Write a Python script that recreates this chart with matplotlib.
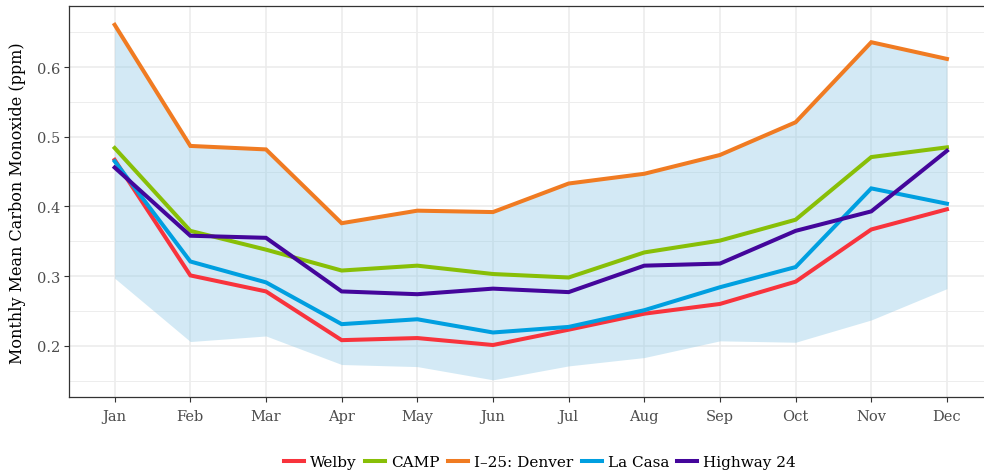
import numpy as np
import matplotlib
matplotlib.use('Agg')
import matplotlib.pyplot as plt
from matplotlib.ticker import MultipleLocator

plt.rcParams['font.family'] = ['DejaVu Serif']

months = ['Jan', 'Feb', 'Mar', 'Apr', 'May', 'Jun',
          'Jul', 'Aug', 'Sep', 'Oct', 'Nov', 'Dec']

welby = [0.467, 0.301, 0.278, 0.208, 0.211, 0.201, 0.223, 0.246, 0.260, 0.292, 0.367, 0.396]
camp = [0.484, 0.365, 0.338, 0.308, 0.315, 0.303, 0.298, 0.334, 0.351, 0.381, 0.471, 0.485]
i25_denver = [0.661, 0.487, 0.482, 0.376, 0.394, 0.392, 0.433, 0.447, 0.474, 0.521, 0.636, 0.612]
la_casa = [0.465, 0.321, 0.291, 0.231, 0.238, 0.219, 0.227, 0.251, 0.284, 0.313, 0.426, 0.404]
highway_24 = [0.456, 0.358, 0.355, 0.278, 0.274, 0.282, 0.277, 0.315, 0.318, 0.365, 0.393, 0.480]

# shaded band: lower bound across stations, upper follows the max series
band_low = [0.297, 0.206, 0.214, 0.173, 0.170, 0.151, 0.171, 0.183, 0.207, 0.205, 0.237, 0.282]
band_high = i25_denver

series = [
    ('Welby', welby, '#f8333c'),
    ('CAMP', camp, '#88bf07'),
    ('I\u201325: Denver', i25_denver, '#f07b22'),
    ('La Casa', la_casa, '#009fe0'),
    ('Highway 24', highway_24, '#44069b'),
]

x = np.arange(1, len(months) + 1)

fig = plt.figure(figsize=(9.84, 4.77), dpi=100)
ax = fig.add_axes([0.0704, 0.165, 0.9296, 0.8197])

ax.fill_between(x, band_low, band_high, color=(145/255, 202/255, 230/255),
                alpha=0.4, linewidth=0, zorder=1)

for name, vals, col in series:
    ax.plot(x, vals, color=col, linewidth=2.9, label=name, zorder=3,
            solid_joinstyle='miter')

ax.set_xlim(0.4, 12.49)
ax.set_ylim(0.1259, 0.6876)
ax.set_xticks(x)
ax.set_xticklabels(months)
ax.yaxis.set_major_locator(MultipleLocator(0.1))
ax.yaxis.set_minor_locator(MultipleLocator(0.05))
ax.yaxis.set_major_formatter(plt.FuncFormatter(lambda v, p: f'{v:.1f}'))

ax.grid(True, which='major', color='#ebebeb', linewidth=1.1, zorder=0)
ax.grid(True, which='minor', axis='y', color='#ededed', linewidth=0.7, zorder=0)
ax.set_axisbelow(True)

for sp in ax.spines.values():
    sp.set_color('#333333')
    sp.set_linewidth(0.9)
# panel runs off the right edge, so no closing border there
ax.spines['right'].set_visible(False)

ax.tick_params(axis='both', which='major', length=3.5, width=0.8, color='#333333',
               labelsize=10.5, labelcolor='#4d4d4d', pad=3)
ax.tick_params(axis='y', which='minor', length=0)
ax.tick_params(axis='x', pad=5)

ax.set_ylabel('Monthly Mean Carbon Monoxide (ppm)', fontsize=11.5, labelpad=8)

fig.legend(loc='center', bbox_to_anchor=(0.549, 0.029), ncol=5, frameon=False,
           fontsize=11, handlelength=1.3, handletextpad=0.4, columnspacing=0.55)

fig.savefig('out.png', dpi=100)
